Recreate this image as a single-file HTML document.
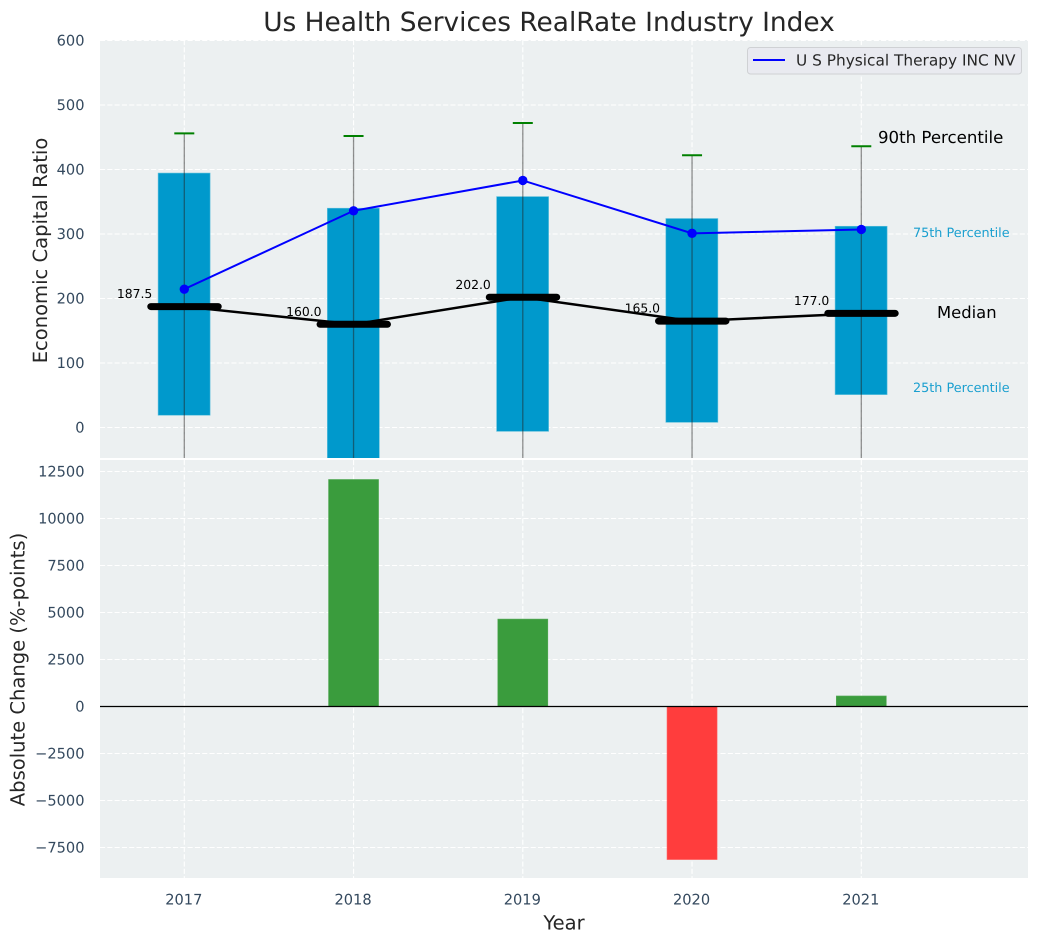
<!DOCTYPE html>
<html lang="en">
<head>
<meta charset="utf-8">
<title>Us Health Services RealRate Industry Index</title>
<style>
html,body{margin:0;padding:0;background:#fff;width:1039px;height:942px;overflow:hidden}
svg{display:block;font-family:"DejaVu Sans","Liberation Sans",sans-serif;text-rendering:geometricPrecision}
</style>
</head>
<body>
<svg id="chart" width="1039" height="942" viewBox="0 0 1039 942" xmlns="http://www.w3.org/2000/svg">
  <defs>
    <clipPath id="top-clip"><rect x="100" y="40" width="928" height="418"/></clipPath>
    <clipPath id="bottom-clip"><rect x="100" y="460" width="928" height="418"/></clipPath>
  </defs>
  <text x="549" y="31" font-size="26.4" text-anchor="middle" fill="#262626">Us Health Services RealRate Industry Index</text>
  <rect x="100" y="40" width="928" height="418" fill="#ecf0f1"/>
  <rect x="100" y="460" width="928" height="418" fill="#ecf0f1"/>
  <g id="grid"></g>
  <g id="top-plot" clip-path="url(#top-clip)"></g>
  <g id="bottom-plot" clip-path="url(#bottom-clip)"></g>
  <g id="ticks"></g>
  <g id="labels"></g>
  <text transform="translate(47 250.5) rotate(-90)" font-size="19.55" text-anchor="middle" fill="#262626">Economic Capital Ratio</text>
  <text transform="translate(24.5 669.5) rotate(-90)" font-size="19.55" text-anchor="middle" fill="#262626">Absolute Change (%-points)</text>
  <text x="564" y="929.5" font-size="19.55" text-anchor="middle" fill="#262626">Year</text>
  <text x="878" y="143" font-size="16.6" fill="#000">90th Percentile</text>
  <text x="913" y="237" font-size="12.8" fill="#1a9fcf">75th Percentile</text>
  <text x="937" y="318" font-size="16.4" fill="#000">Median</text>
  <text x="913" y="392" font-size="12.8" fill="#1a9fcf">25th Percentile</text>
  <g>
    <rect x="747.5" y="47.5" width="274" height="26.5" rx="3" fill="#e9eaf0" stroke="#cfd1d4" stroke-width="1"/>
    <line x1="753" y1="60" x2="785" y2="60" stroke="#0000ff" stroke-width="2"/>
    <text x="796" y="65.5" font-size="15.35" fill="#262626">U S Physical Therapy INC NV</text>
  </g>
</svg>
<script>
const years = [2017, 2018, 2019, 2020, 2021];
const p90 = [456, 452, 472, 422, 436];
const p75 = [394.5, 340, 358, 324, 312];
const medians = [187.5, 160, 202, 165, 177];
const p25 = [19, -120, -6, 8, 51];
const p10 = [-150, -220, -130, -120, -100];
const companyValues = [214.5, 336, 383, 301, 307];
const changes = [0, 12075, 4650, -8140, 560];
const topTicks = [0, 100, 200, 300, 400, 500, 600];
const bottomTicks = [-7500, -5000, -2500, 0, 2500, 5000, 7500, 10000, 12500];

const NS = 'http://www.w3.org/2000/svg';
function xAxis(year) { return 184.3 + (year - 2017) * 169.25; }
function yTop(v) { return 427.5 - v * 0.645; }
function yBottom(v) { return 706.5 - v * 0.0188; }
function make(tag, parent, attrs) {
  const el = document.createElementNS(NS, tag);
  for (const k in attrs) el.setAttribute(k, attrs[k]);
  parent.appendChild(el);
  return el;
}
function minus(n) { return String(n).replace('-', '\u2212'); }

const grid = document.getElementById('grid');
const topPlot = document.getElementById('top-plot');
const bottomPlot = document.getElementById('bottom-plot');
const ticks = document.getElementById('ticks');
const labels = document.getElementById('labels');
const gridStyle = { stroke: '#ffffff', 'stroke-width': 1.1, 'stroke-dasharray': '5.1 2.2' };

topTicks.forEach(function (t) {
  const y = yTop(t);
  const g = make('line', grid, Object.assign({ x1: 100, x2: 1028, y1: y, y2: y }, gridStyle));
  
  
  const lab = make('text', ticks, { x: 84.5, y: y + 5.2, 'font-size': 14.6, 'text-anchor': 'end', fill: '#34495e' });
  lab.textContent = minus(t);
  
  
});

bottomTicks.forEach(function (t) {
  const y = yBottom(t);
  const g = make('line', grid, Object.assign({ x1: 100, x2: 1028, y1: y, y2: y }, gridStyle));
  
  
  const lab = make('text', ticks, { x: 84.5, y: y + 5.2, 'font-size': 14.6, 'text-anchor': 'end', fill: '#34495e' });
  lab.textContent = minus(t);
  
  
});

years.forEach(function (yr) {
  const x = xAxis(yr);
  const g1 = make('line', grid, Object.assign({ x1: x, x2: x, y1: 40, y2: 458 }, gridStyle));
  
  
  const g2 = make('line', grid, Object.assign({ x1: x, x2: x, y1: 460, y2: 878 }, gridStyle));
  
  
  const lab = make('text', ticks, { x: x - 0.5, y: 904.5, 'font-size': 14.6, 'text-anchor': 'middle', fill: '#34495e' });
  lab.textContent = yr;
  
  
});

years.forEach(function (yr, i) {
  const x = xAxis(yr);
  const top = yTop(p75[i]);
  const box = make('rect', topPlot, { x: x - 26.2, y: top, width: 52, height: yTop(p25[i]) - top, fill: '#0099cc', stroke: '#5fc0dc', 'stroke-width': 0.6 });
  
  
});

years.forEach(function (yr, i) {
  const x = xAxis(yr);
  const w = make('line', topPlot, { x1: x, x2: x, y1: yTop(p90[i]), y2: yTop(p10[i]), stroke: '#222', 'stroke-width': 1.3, opacity: 0.5 });
  
  
  const cap = make('line', topPlot, { x1: x - 10, x2: x + 10, y1: yTop(p90[i]), y2: yTop(p90[i]), stroke: '#008000', 'stroke-width': 2 });
  
  
});

const medianLine = make('polyline', topPlot, {
  points: years.map(function (yr, i) { return xAxis(yr) + ',' + yTop(medians[i]); }).join(' '),
  fill: 'none', stroke: '#000', 'stroke-width': 2.5
});



const companyLine = make('polyline', topPlot, {
  points: years.map(function (yr, i) { return xAxis(yr) + ',' + yTop(companyValues[i]); }).join(' '),
  fill: 'none', stroke: '#0000ff', 'stroke-width': 2
});



years.forEach(function (yr, i) {
  const x = xAxis(yr);
  const dot = make('circle', topPlot, { cx: x, cy: yTop(companyValues[i]), r: 4.7, fill: '#0000ff' });
  
  
  const m = make('line', topPlot, { x1: x - 33.5, x2: x + 33.9, y1: yTop(medians[i]), y2: yTop(medians[i]), stroke: '#000', 'stroke-width': 7, 'stroke-linecap': 'round' });
  
  
  const t = make('text', labels, { x: x - 32, y: yTop(medians[i]) - 8.4, 'font-size': 12.4, 'text-anchor': 'end', fill: '#000' });
  t.textContent = medians[i].toFixed(1);
  
  
});

years.forEach(function (yr, i) {
  const x = xAxis(yr);
  const v = changes[i];
  if (v === 0) return;
  const y0 = yBottom(0);
  const y1 = yBottom(v);
  const bar = make('rect', bottomPlot, {
    x: x - 25, y: Math.min(y0, y1), width: 50, height: Math.abs(y1 - y0),
    fill: v > 0 ? '#3a9c3d' : '#ff3d3d',
    stroke: v > 0 ? '#56aa58' : '#ff5c5c', 'stroke-width': 0.6
  });
  
  
});

const zero = make('line', bottomPlot, { x1: 100, x2: 1028, y1: yBottom(0), y2: yBottom(0), stroke: '#000', 'stroke-width': 1.2 });


</script>
</body>
</html>
